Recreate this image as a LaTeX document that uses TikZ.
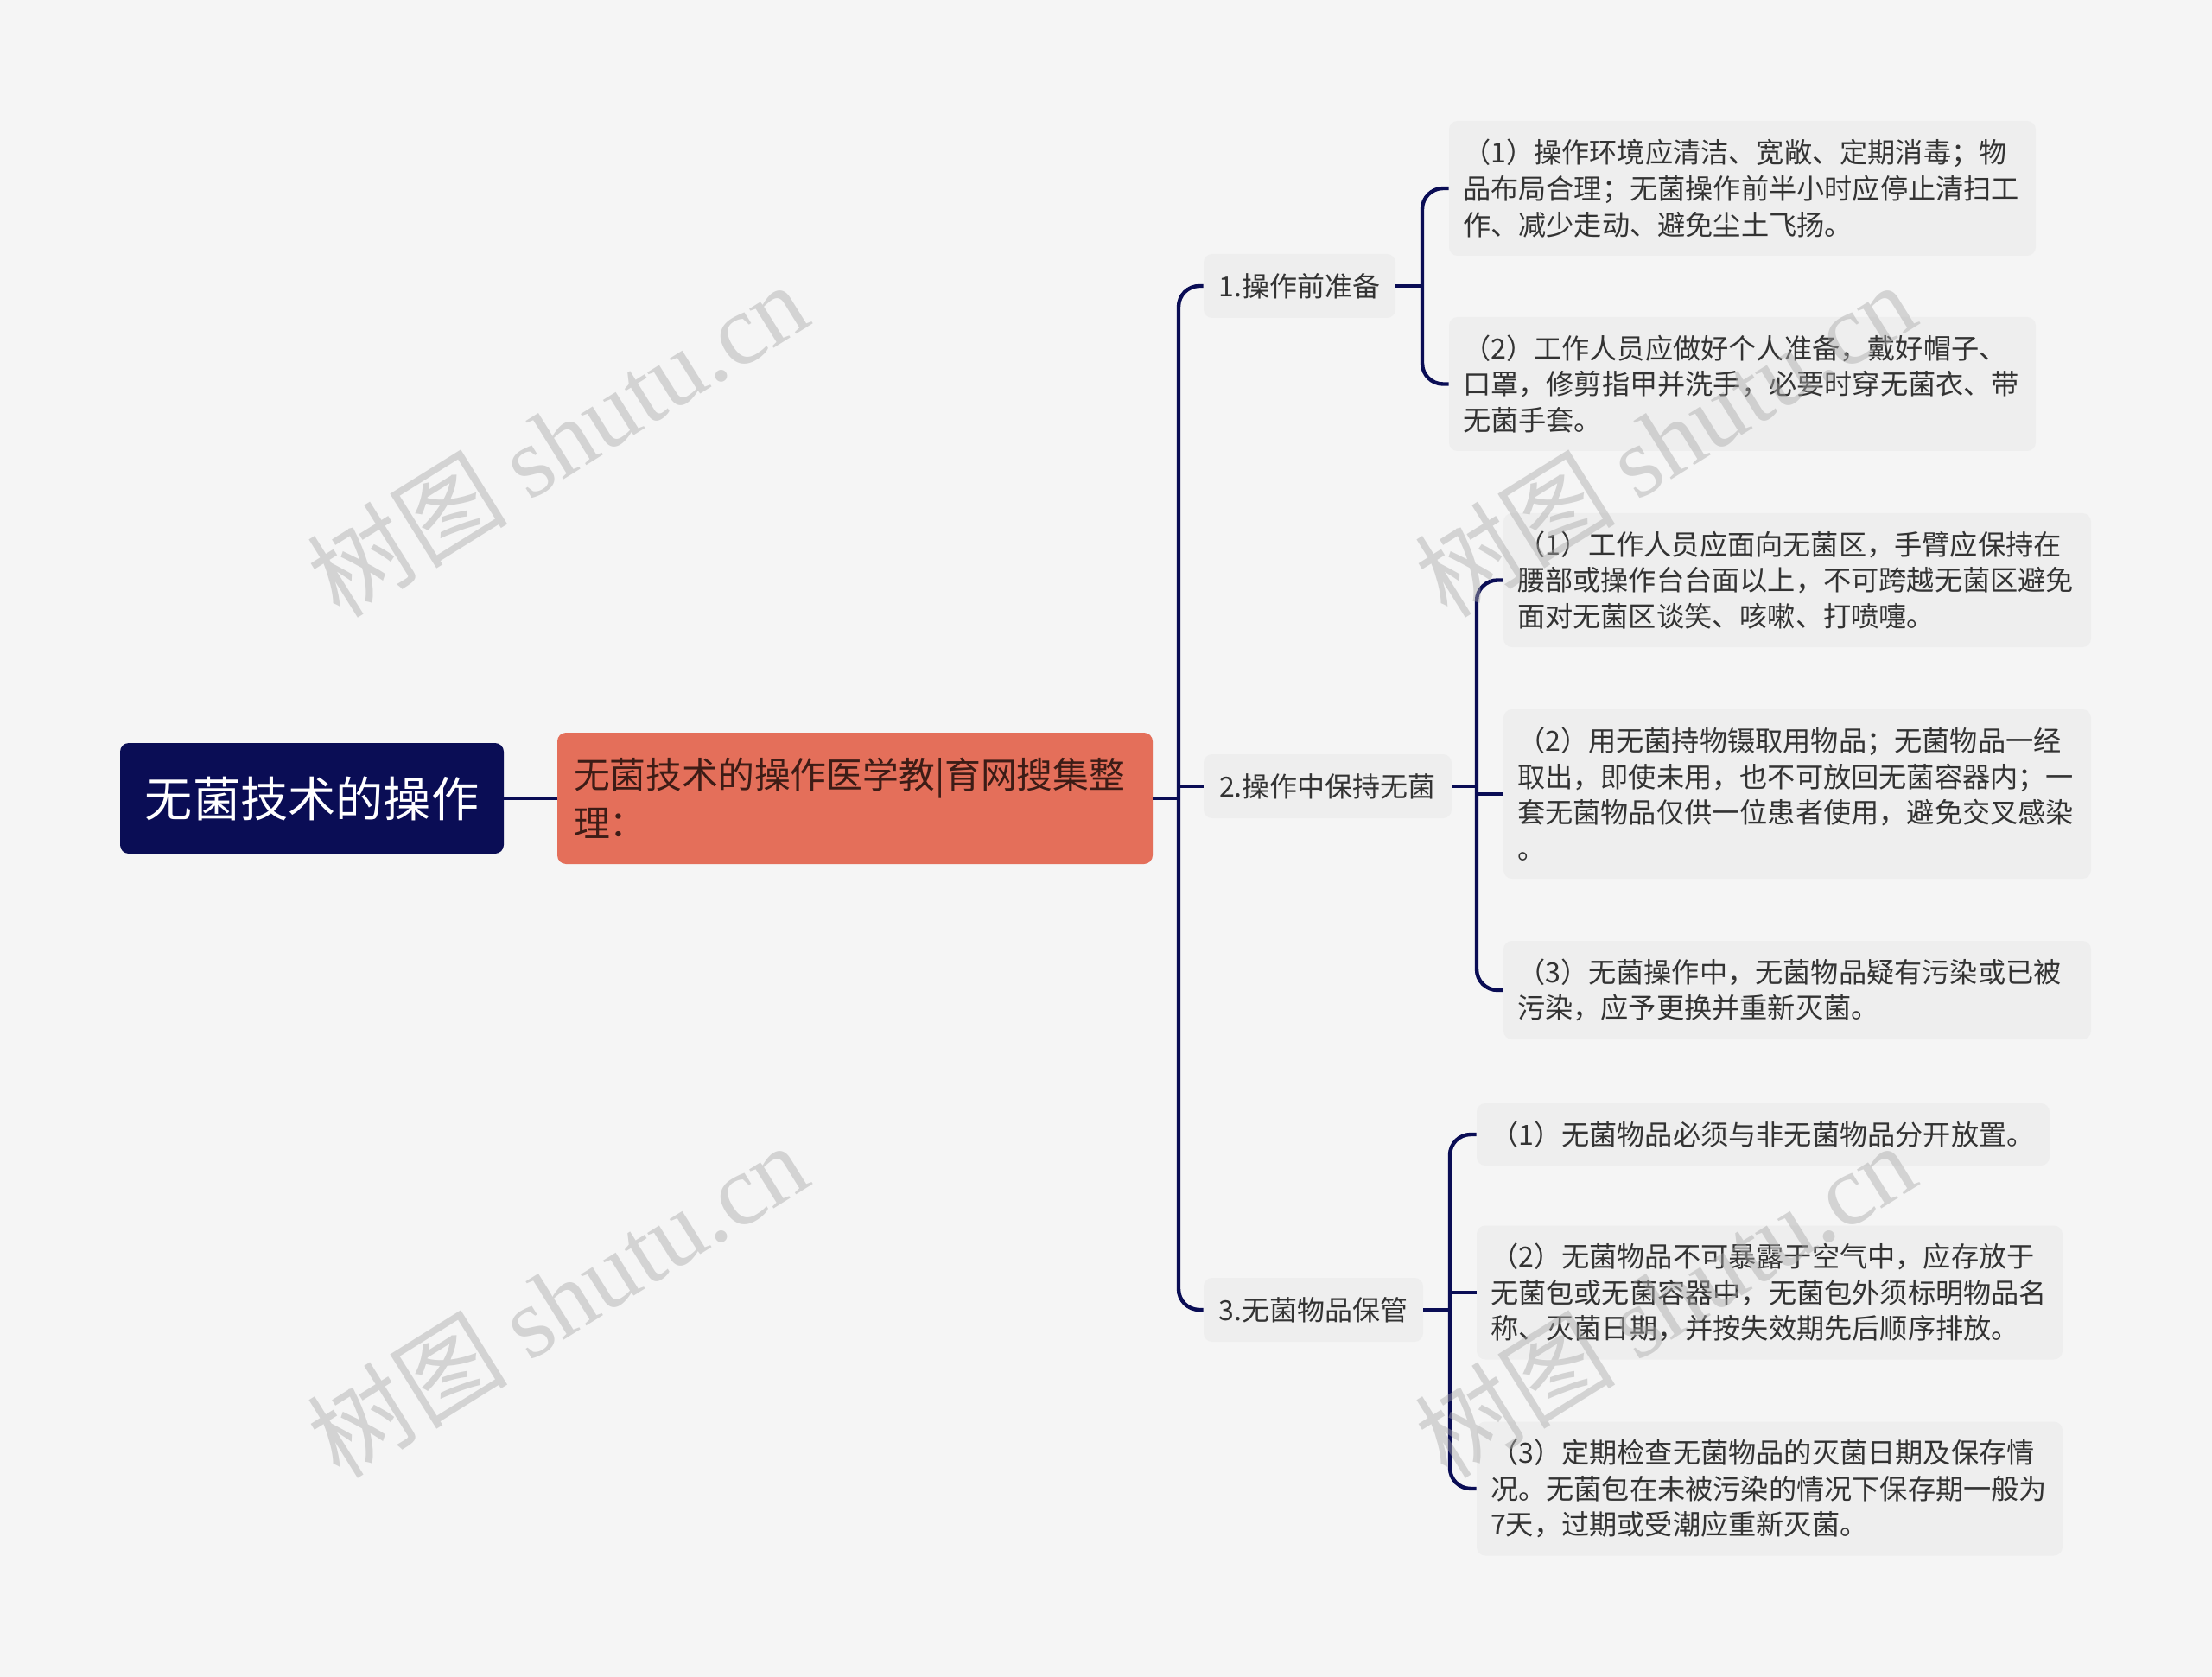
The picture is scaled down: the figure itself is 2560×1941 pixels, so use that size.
\documentclass[tikz,border=0pt]{standalone}
\usepackage{fontspec}
\setmainfont{Noto Sans CJK SC}
\newfontfamily\wmlatin{Liberation Serif}
\definecolor{bgc}{HTML}{F5F5F5}
\definecolor{navyc}{HTML}{0A0D55}
\definecolor{orangec}{HTML}{E46F5A}
\definecolor{otextc}{HTML}{3D1C16}
\definecolor{boxc}{HTML}{EEEEEE}
\definecolor{textc}{HTML}{333333}
\definecolor{wmc}{HTML}{AAAAAA}
\begin{document}
\begin{tikzpicture}[x=0.5pt,y=-0.5pt,
  rootbox/.style={fill=navyc, rounded corners=5pt, text=white, inner sep=0pt,
    font=\fontsize{27.6pt}{33pt}\selectfont, minimum width=222pt, minimum height=64pt},
  subbox/.style={fill=orangec, rounded corners=5pt, text=otextc, inner xsep=9.5pt, inner ysep=0pt,
    font=\fontsize{20.9pt}{27.8pt}\selectfont, minimum width=344.5pt, minimum height=76pt,
    text width=325.5pt, align=left},
  midbox/.style={fill=boxc, rounded corners=5pt, text=textc, inner sep=0pt,
    font=\fontsize{16pt}{20.8pt}\selectfont, minimum height=37pt},
  leafbox/.style={fill=boxc, rounded corners=5pt, text=textc, inner xsep=8pt, inner ysep=0pt,
    font=\fontsize{16.1pt}{20.8pt}\selectfont, align=left},
  conn/.style={draw=navyc, line width=2.2pt, rounded corners=12pt},
  wm/.style={text=wmc, opacity=0.45, rotate=32, inner sep=0pt, font=\fontsize{58pt}{58pt}\selectfont}
]
\fill[bgc] (0,0) rectangle (2560,1941);
\useasboundingbox (0,0) rectangle (2560,1941);

\node[rootbox] (root) at (361,924) {无菌技术的操作};
\node[subbox] (sub) at (989.5,924) {无菌技术的操作医学教|育网搜集整\\理：};

\node[midbox, minimum width=111pt] (n1) at (1504,331) {1.操作前准备};
\node[midbox, minimum width=143.5pt] (n2) at (1536.5,910) {2.操作中保持无菌};
\node[midbox, minimum width=127pt] (n3) at (1520,1516) {3.无菌物品保管};

\node[leafbox, text width=323.5pt, minimum height=78pt] (l1a) at (2016.5,218)
  {（1）操作环境应清洁、宽敞、定期消毒；物\\品布局合理；无菌操作前半小时应停止清扫工\\作、减少走动、避免尘土飞扬。};
\node[leafbox, text width=323.5pt, minimum height=77.5pt] (l1b) at (2016.5,444.5)
  {（2）工作人员应做好个人准备，戴好帽子、\\口罩，修剪指甲并洗手，必要时穿无菌衣、带\\无菌手套。};

\node[leafbox, text width=324pt, minimum height=77.5pt] (l2a) at (2080,671.5)
  {（1）工作人员应面向无菌区，手臂应保持在\\腰部或操作台台面以上，不可跨越无菌区避免\\面对无菌区谈笑、咳嗽、打喷嚏。};
\node[leafbox, text width=324pt, minimum height=98pt] (l2b) at (2080,919)
  {（2）用无菌持物镊取用物品；无菌物品一经\\取出，即使未用，也不可放回无菌容器内；一\\套无菌物品仅供一位患者使用，避免交叉感染\\。};
\node[leafbox, text width=324pt, minimum height=57pt] (l2c) at (2080,1146)
  {（3）无菌操作中，无菌物品疑有污染或已被\\污染，应予更换并重新灭菌。};

\node[leafbox, text width=315.5pt, minimum height=36pt] (l3a) at (2040.5,1313)
  {（1）无菌物品必须与非无菌物品分开放置。};
\node[leafbox, text width=323pt, minimum height=77.5pt] (l3b) at (2048,1496)
  {（2）无菌物品不可暴露于空气中，应存放于\\无菌包或无菌容器中，无菌包外须标明物品名\\称、灭菌日期，并按失效期先后顺序排放。};
\node[leafbox, text width=323pt, minimum height=77.5pt] (l3c) at (2048,1723)
  {（3）定期检查无菌物品的灭菌日期及保存情\\况。无菌包在未被污染的情况下保存期一般为\\7天，过期或受潮应重新灭菌。};

% junction coordinates
\coordinate (s0) at (1364,924);
\coordinate (s1) at (1646,331);
\coordinate (s2) at (1709,910);
\coordinate (s3) at (1678,1516);

% connectors
\draw[conn] (root.east) -- (sub.west);
\draw[conn] (sub.east) -- (s0);
\draw[conn] (n1.west) -| (s0) |- (n3.west);
\draw[conn] (n2.west) -- (n2.west -| s0);

\draw[conn] (n1.east) -- (s1);
\draw[conn] (l1a.west) -| (s1) |- (l1b.west);

\draw[conn] (n2.east) -- (s2);
\draw[conn] (l2a.west) -| (s2) |- (l2c.west);
\draw[conn] (l2b.west) -- (l2b.west -| s2);

\draw[conn] (n3.east) -- (s3);
\draw[conn] (l3a.west) -| (s3) |- (l3c.west);
\draw[conn] (l3b.west) -- (l3b.west -| s3);

% watermarks
\node[wm] (wm1) at (645,508) {树图 {\wmlatin shutu.cn}};
\node[wm] (wm2) at (1927,508) {树图 {\wmlatin shutu.cn}};
\node[wm] (wm3) at (645,1504) {树图 {\wmlatin shutu.cn}};
\node[wm] (wm4) at (1927,1504) {树图 {\wmlatin shutu.cn}};
\end{tikzpicture}
\end{document}
